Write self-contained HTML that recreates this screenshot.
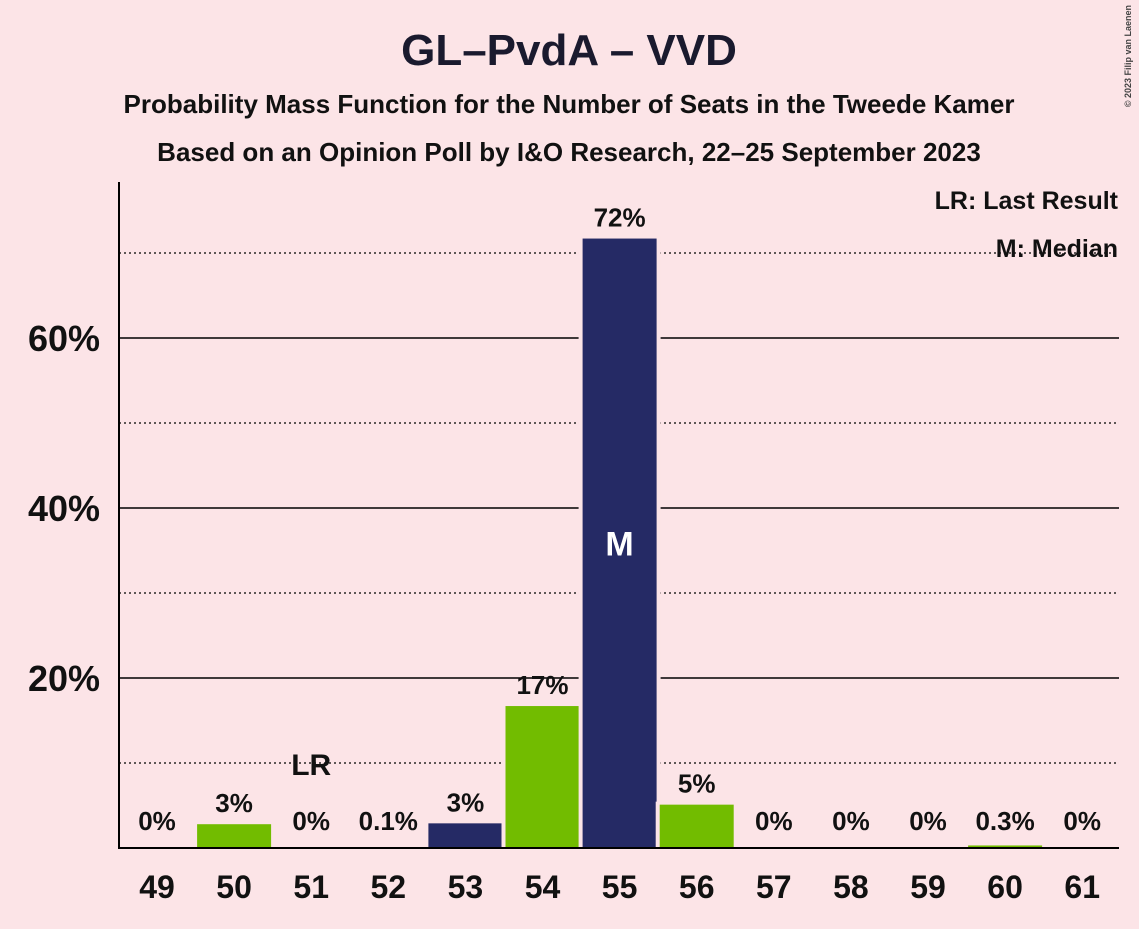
<!DOCTYPE html>
<html><head><meta charset="utf-8"><style>
body{margin:0;background:#fce4e7;font-family:"Liberation Sans",sans-serif}
svg text{font-family:"Liberation Sans",sans-serif;font-weight:bold}
</style></head><body>
<svg id="c" width="1139" height="924">
<rect width="1139" height="924" fill="#fce4e7"/>
<text x="569" y="65" font-size="44" text-anchor="middle" fill="#1a1a2e">GL–PvdA – VVD</text>
<text x="569" y="113" font-size="26" text-anchor="middle" fill="#111">Probability Mass Function for the Number of Seats in the Tweede Kamer</text>
<text x="569" y="161" font-size="26" text-anchor="middle" fill="#111">Based on an Opinion Poll by I&amp;O Research, 22–25 September 2023</text>
<text x="1131" y="5" font-size="9" font-weight="normal" fill="#444" transform="rotate(-90 1131 5)" text-anchor="end">© 2023 Filip van Laenen</text>
<g id="grid"></g><g id="bars"></g><g id="labels"></g>
<line x1="119" y1="182" x2="119" y2="849" stroke="#000" stroke-width="2"/>
<line x1="118" y1="848" x2="1119" y2="848" stroke="#000" stroke-width="2"/>
<text x="1118" y="209" font-size="25" text-anchor="end" fill="#111">LR: Last Result</text>
<text x="1118" y="257" font-size="25" text-anchor="end" fill="#111">M: Median</text>
</svg>
<script>
const seats=[49,50,51,52,53,54,55,56,57,58,59,60,61];
const probs=[0,2.8,0,0.1,2.9,16.7,71.7,5.1,0,0,0,0.3,0];
const valueLabels=["0%","3%","0%","0.1%","3%","17%","72%","5%","0%","0%","0%","0.3%","0%"];
const yTicks=[20,40,60];
const yMinor=[10,30,50,70];
const lastResult=51, median=55;
const navySeats=[53,55];
const ns="http://www.w3.org/2000/svg";
const x=s=>157+(s-49)*77.1;
const y=v=>848-v*8.5;
function mk(t,a,p){const e=document.createElementNS(ns,t);for(const k in a)e.setAttribute(k,a[k]);p.appendChild(e);return e;}
const g=document.getElementById('grid'),b=document.getElementById('bars'),l=document.getElementById('labels');
yMinor.forEach(v=>{const e=mk('line',{x1:119,x2:1119,y1:y(v),y2:y(v),stroke:'#000','stroke-width':1.3,'stroke-dasharray':'2,3'},g);

});
yTicks.forEach(v=>{const e=mk('line',{x1:119,x2:1119,y1:y(v),y2:y(v),stroke:'#000','stroke-width':1.6},g);


const t=mk('text',{x:100,y:y(v)+13,'font-size':36,'text-anchor':'end',fill:'#111'},l);t.textContent=v+'%';

});
seats.forEach((s,i)=>{const p=probs[i];
if(p>0){mk('rect',{x:x(s)-41,y:y(p)-3,width:82,height:848-y(p)+3,fill:'#fce4e7'},b);
const r=mk('rect',{x:x(s)-37,y:y(p),width:74,height:848-y(p),fill:navySeats.includes(s)?'#252a65':'#72bc00'},b);

}
const t=mk('text',{x:x(s),y:y(p)-12,'font-size':26,'text-anchor':'middle',fill:'#111'},l);t.textContent=valueLabels[i];
if(p<1)t.setAttribute('y',830);


const c=mk('text',{x:x(s),y:898,'font-size':32,'text-anchor':'middle',fill:'#111'},l);c.textContent=s;


if(s===lastResult){const e=mk('text',{x:x(s),y:775,'font-size':30,'text-anchor':'middle',fill:'#111'},l);e.textContent='LR';

}
if(s===median){const e=mk('text',{x:x(s),y:(y(p)+848)/2+12,'font-size':34,'text-anchor':'middle',fill:'#fff'},l);e.textContent='M';

}
});
</script>
</body></html>
